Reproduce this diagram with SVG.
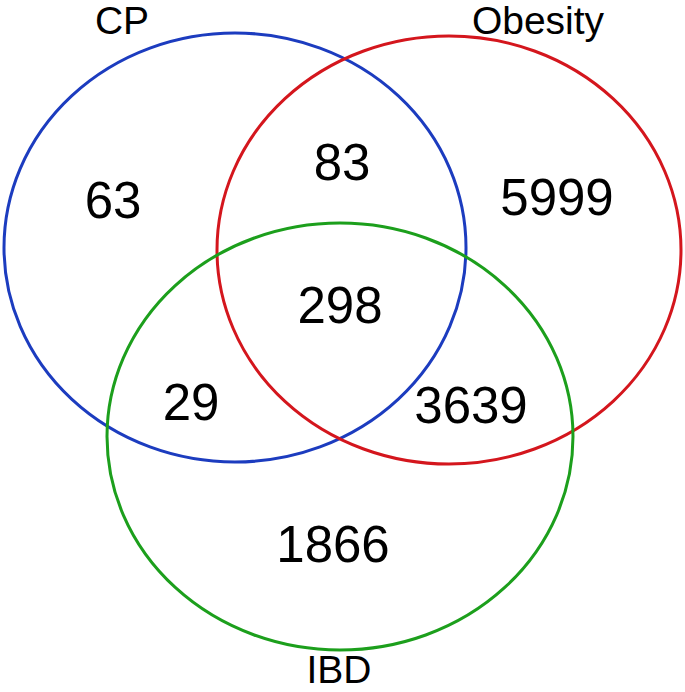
<svg xmlns="http://www.w3.org/2000/svg" width="685" height="692" viewBox="0 0 685 692">
<style>
.set{fill:none;stroke-width:3}
.lbl{font-family:"Liberation Sans",Arial,sans-serif;font-size:39px;fill:#000;text-anchor:middle}
.num{font-family:"Liberation Sans",Arial,sans-serif;font-size:51px;fill:#000;text-anchor:middle}
</style>
<rect width="685" height="692" fill="#fff"/>
<g id="CP">
<ellipse class="set" cx="235" cy="247.5" rx="231" ry="214.5" stroke="#1c3cbf"/>
<text class="lbl" x="122" y="34">CP</text>
</g>
<g id="Obesity">
<ellipse class="set" cx="449" cy="250" rx="232" ry="214" stroke="#d4161d"/>
<text class="lbl" x="538" y="34">Obesity</text>
</g>
<g id="IBD">
<ellipse class="set" cx="340" cy="436.5" rx="233" ry="213.5" stroke="#1c9f1c"/>
<text class="lbl" x="339" y="683">IBD</text>
</g>
<g id="counts">
<text class="num" x="113" y="218">63</text>
<text class="num" x="342" y="180">83</text>
<text class="num" x="557" y="215">5999</text>
<text class="num" x="340" y="323">298</text>
<text class="num" x="191" y="420">29</text>
<text class="num" x="471" y="423">3639</text>
<text class="num" x="333" y="562">1866</text>
</g>
<g id="connectors"></g>
</svg>
